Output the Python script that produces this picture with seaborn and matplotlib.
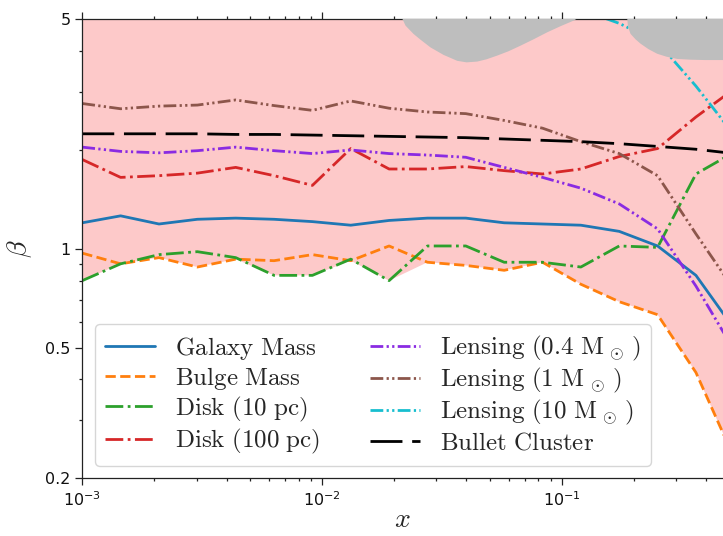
import numpy as np
import pandas as pd
import matplotlib
matplotlib.use("Agg")
import matplotlib.pyplot as plt
from matplotlib.font_manager import FontProperties
from matplotlib.ticker import LogLocator, NullFormatter
import seaborn as sns

# ---------------------------------------------------------------- data
x_grid = [1.000e-3, 1.445e-3, 2.089e-3, 3.020e-3, 4.365e-3, 6.310e-3,
          9.120e-3, 1.318e-2, 1.905e-2, 2.754e-2, 3.981e-2, 5.754e-2,
          8.318e-2, 0.1202, 0.1738, 0.2512, 0.3631, 0.5248]

galaxy_mass = [1.20, 1.26, 1.19, 1.23, 1.24, 1.23, 1.21, 1.18, 1.22, 1.24,
               1.24, 1.20, 1.19, 1.18, 1.13, 1.02, 0.83, 0.57]
bulge_mass = [0.97, 0.90, 0.94, 0.88, 0.93, 0.92, 0.96, 0.92, 1.02, 0.91,
              0.89, 0.86, 0.91, 0.78, 0.69, 0.63, 0.42, 0.23]
disk_10pc = [0.80, 0.90, 0.96, 0.98, 0.94, 0.83, 0.83, 0.93, 0.80, 1.02,
             1.02, 0.91, 0.91, 0.88, 1.02, 1.01, 1.69, 1.97]
disk_100pc = [1.87, 1.65, 1.67, 1.70, 1.77, 1.67, 1.56, 2.02, 1.75, 1.75,
              1.78, 1.73, 1.69, 1.75, 1.91, 2.02, 2.52, 3.07]
lensing_04 = [2.04, 1.98, 1.96, 1.99, 2.04, 1.99, 1.95, 2.00, 1.95, 1.93,
              1.90, 1.77, 1.65, 1.53, 1.37, 1.15, 0.77, 0.49]
lensing_1 = [2.77, 2.67, 2.72, 2.74, 2.84, 2.73, 2.64, 2.82, 2.68, 2.61,
             2.58, 2.46, 2.33, 2.12, 1.95, 1.67, 1.11, 0.75]
lensing_10_x = [0.1202, 0.1738, 0.2512, 0.3631, 0.5248]
lensing_10 = [5.35, 4.86, 4.26, 3.13, 2.22]
bullet_cluster = [2.24, 2.24, 2.24, 2.24, 2.23, 2.23, 2.22, 2.21, 2.20, 2.19,
                  2.18, 2.16, 2.14, 2.12, 2.09, 2.05, 2.01, 1.95]

# excluded regions (lower edges of the grey patches)
excl1_x = [0.02150, 0.02220, 0.02396, 0.02563, 0.02822, 0.03197, 0.03648,
           0.03989, 0.04419, 0.04832, 0.05355, 0.05970, 0.06699, 0.07592,
           0.08659, 0.09838, 0.1115, 0.1158]
excl1_lo = [5.05, 4.80, 4.53, 4.35, 4.12, 3.91, 3.75, 3.71, 3.73, 3.79,
            3.89, 4.01, 4.17, 4.36, 4.58, 4.78, 4.97, 5.05]
excl2_x = [0.1867, 0.1882, 0.1928, 0.2023, 0.2122, 0.2291, 0.2491, 0.2724,
           0.3020, 0.3433, 0.3963, 0.4710, 0.5500]
excl2_lo = [5.05, 4.76, 4.53, 4.36, 4.23, 4.07, 3.94, 3.86, 3.80, 3.78,
            3.77, 3.77, 3.77]

x_ticks = [1e-3, 1e-2, 1e-1]
y_ticks = [0.2, 0.5, 1, 5]
y_tick_labels = ["0.2", "0.5", "1", "5"]

# ---------------------------------------------------------------- style
sns.set_style("ticks")
plt.rcParams.update({
    "axes.edgecolor": "#222222",
    "axes.linewidth": 0.9,
    "xtick.color": "#222222",
    "ytick.color": "#222222",
    "xtick.labelcolor": "#111111",
    "ytick.labelcolor": "#111111",
    "font.family": ["DejaVu Sans"],
})

dashdotdot = (0, (4.6, 1.2, 0.8, 1.2, 0.8, 1.2))
series = [
    ("Galaxy Mass", x_grid, galaxy_mass, "#1f77b4", "-"),
    ("Bulge Mass", x_grid, bulge_mass, "#ff7f0e", "--"),
    ("Disk (10 pc)", x_grid, disk_10pc, "#2ca02c", "-."),
    ("Disk (100 pc)", x_grid, disk_100pc, "#d62728", "-."),
    ("Lensing (0.4 M_sun)", x_grid, lensing_04, "#8a2be2", dashdotdot),
    ("Lensing (1 M_sun)", x_grid, lensing_1, "#8c564b", dashdotdot),
    ("Lensing (10 M_sun)", lensing_10_x, lensing_10, "#17becf", dashdotdot),
    ("Bullet Cluster", x_grid, bullet_cluster, "black", (0, (11.5, 3.5))),
]
legend_text = [
    r"$\mathrm{Galaxy\ Mass}$",
    r"$\mathrm{Bulge\ Mass}$",
    r"$\mathrm{Disk\ (10\ pc)}$",
    r"$\mathrm{Disk\ (100\ pc)}$",
    r"$\mathrm{Lensing\ (0.4\ M_{\,\odot}\,)}$",
    r"$\mathrm{Lensing\ (1\ M_{\,\odot}\,)}$",
    r"$\mathrm{Lensing\ (10\ M_{\,\odot}\,)}$",
    r"$\mathrm{Bullet\ Cluster}$",
]

W, H = 723, 536
fig = plt.figure(figsize=(W / 100, H / 100), dpi=100)
ax = fig.add_axes([82.3 / W, (H - 478.3) / H, 1 - 82.3 / W, (478.3 - 19.3) / H])
ax.set_xscale("log")
ax.set_yscale("log")

# allowed region between the lowest constraint and the top of the plot
lower = np.minimum(np.array(bulge_mass), np.array(disk_10pc))
ax.fill_between(x_grid, lower, 10, color="#fdc9c9", lw=0, zorder=0.5)

handles = []
for (name, xs, ys, col, ls), lab in zip(series, legend_text):
    df = pd.DataFrame({"x": xs, "beta": ys})
    sns.lineplot(data=df, x="x", y="beta", ax=ax, color=col, lw=2,
                 linestyle=ls, errorbar=None, sort=False, zorder=2)
    line = ax.lines[-1]
    line.set_label(lab)
    handles.append(line)

ax.fill_between(excl1_x, excl1_lo, 10, color="#bebebe", lw=0, zorder=3)
ax.fill_between(excl2_x, excl2_lo, 10, color="#bebebe", lw=0, zorder=3)

ax.set_xlim(1e-3, 0.4709)
ax.set_ylim(0.2, 5)
ax.set_xticks(x_ticks)
ax.set_yticks(y_ticks)
ax.set_yticklabels(y_tick_labels)
ax.yaxis.set_minor_locator(LogLocator(base=10, subs=np.arange(2, 10)))
ax.yaxis.set_minor_formatter(NullFormatter())
ax.xaxis.set_minor_locator(LogLocator(base=10, subs=np.arange(2, 10)))
ax.xaxis.set_minor_formatter(NullFormatter())
ax.tick_params(which="both", direction="out", top=True, right=False,
               width=0.9)
ax.tick_params(which="major", length=5, labelsize=11.5)
ax.tick_params(which="minor", length=2.5)
ax.spines["right"].set_visible(False)

ax.set_xlabel(r"$x$", fontsize=20, math_fontfamily="cm", labelpad=-3)
ax.set_ylabel(r"$\beta$", fontsize=20, math_fontfamily="cm", labelpad=8)

ax.legend(handles=handles, loc="lower left", ncol=2, labelspacing=0.12,
          prop=FontProperties(size=18, math_fontfamily="cm"))

fig.savefig("out.png", dpi=100)
